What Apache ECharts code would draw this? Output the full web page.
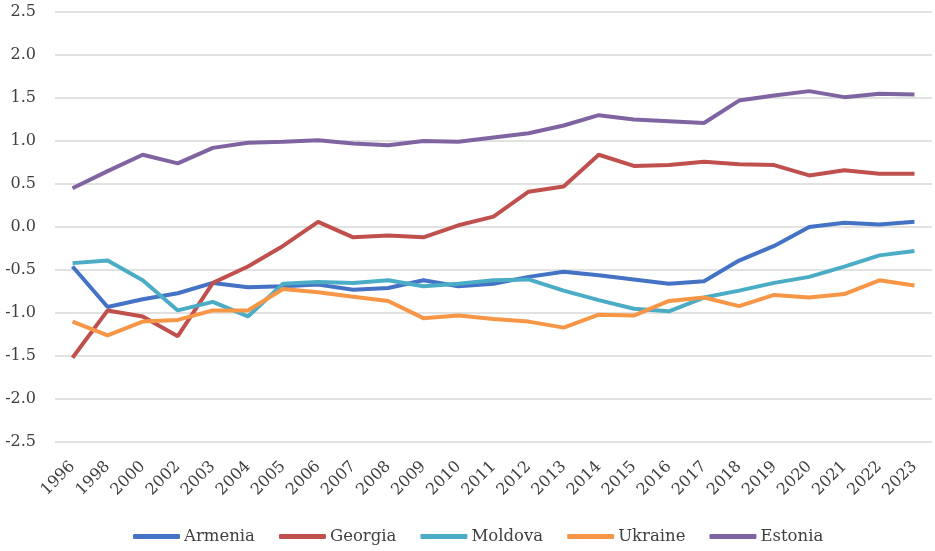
<!DOCTYPE html>
<html><head><meta charset="utf-8">
<script src="https://cdn.jsdelivr.net/npm/echarts@6/dist/echarts.min.js"></script>
<style>html,body{margin:0;padding:0;background:#fff}#c{width:935px;height:551px}</style>
</head><body><div id="c"></div>
<script>
const years = ['1996','1998','2000','2002','2003','2004','2005','2006','2007','2008','2009','2010','2011','2012','2013','2014','2015','2016','2017','2018','2019','2020','2021','2022','2023'];
const armenia = [-0.46,-0.93,-0.84,-0.77,-0.65,-0.70,-0.69,-0.67,-0.73,-0.71,-0.62,-0.69,-0.66,-0.58,-0.52,-0.56,-0.61,-0.66,-0.63,-0.39,-0.22,0.00,0.05,0.03,0.06];
const georgia = [-1.52,-0.97,-1.04,-1.27,-0.65,-0.46,-0.22,0.06,-0.12,-0.10,-0.12,0.02,0.12,0.41,0.47,0.84,0.71,0.72,0.76,0.73,0.72,0.60,0.66,0.62,0.62];
const moldova = [-0.42,-0.39,-0.62,-0.97,-0.87,-1.04,-0.66,-0.64,-0.65,-0.62,-0.69,-0.66,-0.62,-0.61,-0.74,-0.85,-0.95,-0.98,-0.82,-0.74,-0.65,-0.58,-0.46,-0.33,-0.28];
const ukraine = [-1.10,-1.26,-1.10,-1.08,-0.97,-0.97,-0.72,-0.76,-0.81,-0.86,-1.06,-1.03,-1.07,-1.10,-1.17,-1.02,-1.03,-0.86,-0.82,-0.92,-0.79,-0.82,-0.78,-0.62,-0.68];
const estonia = [0.45,0.65,0.84,0.74,0.92,0.98,0.99,1.01,0.97,0.95,1.00,0.99,1.04,1.09,1.18,1.30,1.25,1.23,1.21,1.47,1.53,1.58,1.51,1.55,1.54];
const names = ['Armenia','Georgia','Moldova','Ukraine','Estonia'];
const colors = ['#4472C4','#C0504D','#4BACC6','#F79646','#8064A2'];
const values = [armenia, georgia, moldova, ukraine, estonia];
const font = 'DejaVu Serif';
const chart = echarts.init(document.getElementById('c'));
chart.setOption({
  animation:false,
  color: colors,
  grid:{left:55,right:3,top:12,bottom:109,containLabel:false},
  legend:{top:523,left:128,icon:'roundRect',itemWidth:47,itemHeight:5,itemGap:24,
    textStyle:{fontFamily:font,fontSize:16.5,color:'#404040',padding:[0,0,0,-1]}},
  xAxis:{type:'category',data:years,boundaryGap:true,
    axisLine:{show:false},axisTick:{show:false},
    axisLabel:{rotate:45,interval:0,fontFamily:font,fontSize:16,color:'#404040',margin:22}},
  yAxis:{type:'value',min:-2.5,max:2.5,interval:0.5,
    axisLine:{show:false},axisTick:{show:false},
    splitLine:{lineStyle:{color:'#d9d9d9',width:1.5}},
    axisLabel:{formatter:v=>v.toFixed(1),fontFamily:font,fontSize:16,color:'#404040',margin:19}},
  series: names.map((n,i)=>({name:n,type:'line',data:values[i],symbol:'none',
    lineStyle:{width:4,color:colors[i]},itemStyle:{color:colors[i]}}))
});
</script></body></html>
